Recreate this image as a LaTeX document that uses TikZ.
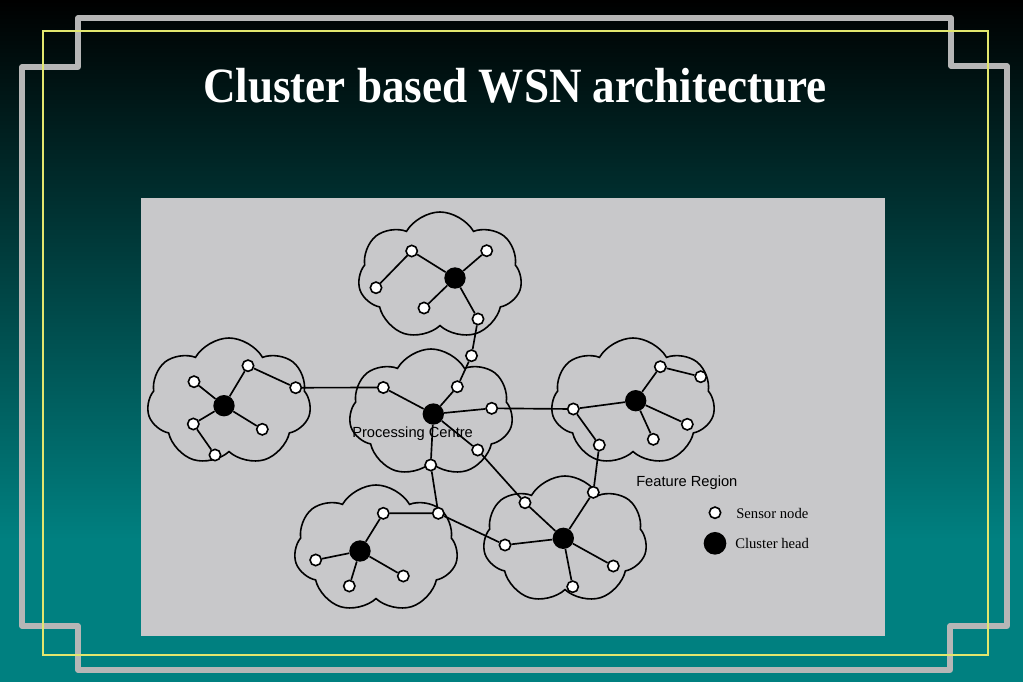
\documentclass[tikz,border=0pt]{standalone}
\usepackage{fontspec}
\setmainfont{Liberation Serif}
\newfontfamily\labelfont{Liberation Sans}
\usepackage{tikz}
\usetikzlibrary{shapes.symbols}
\definecolor{bgteal}{RGB}{0,128,128}
\definecolor{framegray}{RGB}{182,182,182}
\definecolor{lineyellow}{RGB}{226,230,110}
\definecolor{panelgray}{RGB}{200,200,202}

\begin{document}
\begin{tikzpicture}[x=0.75pt,y=0.75pt,yscale=-1,xscale=1,
  sensor/.style={circle,draw,fill=white,line width=1.2pt,inner sep=0pt,minimum size=8.5pt},
  chead/.style={circle,fill=black,inner sep=0pt,minimum size=16pt},
  region/.style={cloud,draw,cloud puffs=7,cloud puff arc=120,line width=1.2pt,inner sep=0pt,minimum width=123pt,minimum height=96pt},
  link/.style={line width=1.25pt}]
\useasboundingbox (0,0) rectangle (1023,682);

%Shape: Background
\fill[bgteal] (0,0) rectangle (1023,682);
\shade[top color=black,bottom color=bgteal] (0,0) rectangle (1023,540);
%Shape: Frame
\draw[framegray,line width=3.8pt,line join=round] (78,18) -- (951,18) -- (951,66) -- (1007,66) -- (1007,626) -- (950,626) -- (950,670) -- (78,670) -- (78,626) -- (22,626) -- (22,67) -- (78,67) -- cycle ;
\draw[lineyellow,line width=1pt] (43,31) rectangle (988,655);
%Shape: Panel
\fill[panelgray] (141,198) rectangle (885,636);

% Text Node
\node[anchor=base,text=white,font=\bfseries\fontsize{37}{40}\selectfont] (title) at (515,102) {\scalebox{0.915}[1]{Cluster based WSN architecture}};

%Shape: Clouds
\node[region] (cN) at (440,276) {};
\node[region] (cW) at (229,402) {};
\node[region] (cP) at (431,413) {};
\node[region] (cE) at (633,402) {};
\node[region] (cSE) at (565,540) {};
\node[region] (cSW) at (376,549) {};

%Shape: Nodes, top cluster
\node[sensor] (nA) at (411.7,251) {};
\node[sensor] (nB) at (486.7,250.7) {};
\node[chead] (nH) at (455,278) {};
\node[sensor] (nC) at (376,287.7) {};
\node[sensor] (nD) at (424,308) {};
\node[sensor] (nE) at (478,319) {};
%Shape: Nodes, left cluster
\node[sensor] (wA) at (248,365.7) {};
\node[sensor] (wB) at (295.7,387.7) {};
\node[sensor] (wC) at (194,381.7) {};
\node[chead] (wH) at (224,405.7) {};
\node[sensor] (wD) at (193.3,424) {};
\node[sensor] (wE) at (262.3,429.3) {};
\node[sensor] (wF) at (215,455) {};
%Shape: Nodes, processing centre
\node[sensor] (pA) at (383.3,387.5) {};
\node[sensor] (pB) at (471.5,355.7) {};
\node[sensor] (pC) at (457.3,386.7) {};
\node[chead] (pH) at (433.3,414) {};
\node[sensor] (pD) at (491.7,408.3) {};
\node[sensor] (pE) at (477.7,450) {};
\node[sensor] (pF) at (430.7,465) {};
%Shape: Nodes, right cluster
\node[sensor] (eA) at (660.3,366.7) {};
\node[sensor] (eB) at (700.7,376.7) {};
\node[chead] (eH) at (635.7,400.7) {};
\node[sensor] (eC) at (573.3,409) {};
\node[sensor] (eD) at (687.3,424.3) {};
\node[sensor] (eE) at (653.3,439.3) {};
\node[sensor] (eF) at (599.3,445) {};
%Shape: Nodes, lower right cluster
\node[sensor] (seA) at (593.3,492.3) {};
\node[sensor] (seB) at (525,502.7) {};
\node[chead] (seH) at (563.3,538.3) {};
\node[sensor] (seC) at (505,545) {};
\node[sensor] (seD) at (613.3,566) {};
\node[sensor] (seE) at (572.7,586.7) {};
%Shape: Nodes, lower left cluster
\node[sensor] (swA) at (383.3,513.3) {};
\node[sensor] (swB) at (438.3,513.3) {};
\node[chead] (swH) at (360,551) {};
\node[sensor] (swC) at (315.7,560) {};
\node[sensor] (swD) at (403.3,576) {};
\node[sensor] (swE) at (349.3,586) {};

%Straight Lines
\draw[link] (nA) -- (nC) (nA) -- (nH) (nH) -- (nB) (nH) -- (nD) (nH) -- (nE);
\draw[link] (wA) -- (wB) (wA) -- (wH) (wC) -- (wH) (wH) -- (wE) (wH) -- (wD) (wD) -- (wF);
\draw[link] (pA) -- (pH) (pB) -- (pC) (pC) -- (pH) (pH) -- (pD) (pH) -- (pE) (pH) -- (pF);
\draw[link] (eA) -- (eB) (eA) -- (eH) (eH) -- (eC) (eH) -- (eD) (eH) -- (eE) (eC) -- (eF);
\draw[link] (seA) -- (seH) (seB) -- (seH) (seH) -- (seC) (seH) -- (seD) (seH) -- (seE);
\draw[link] (swA) -- (swB) (swA) -- (swH) (swH) -- (swC) (swH) -- (swD) (swH) -- (swE);
%Straight Lines, between clusters
\draw[link] (nE) -- (pB) (wB) -- (pA) (pD) -- (eC) (pE) -- (seB) (pF) -- (swB) (swB) -- (seC) (eF) -- (seA);

% Text Node
\node[anchor=west,inner sep=0pt,font=\labelfont\fontsize{11}{13}\selectfont] (pcText) at (352,434) {Processing Centre};
% Text Node
\node[anchor=west,inner sep=0pt,font=\labelfont\fontsize{11}{13}\selectfont] (frText) at (636,483) {Feature Region};

% Legend
\node[sensor] (keySensor) at (715,512.7) {};
\node[chead,minimum size=17pt] (keyHead) at (715,543.3) {};
\node[anchor=west,inner sep=0pt,font=\fontsize{11}{13}\selectfont] (keySensorText) at (736,513) {Sensor node};
\node[anchor=west,inner sep=0pt,font=\fontsize{11}{13}\selectfont] (keyHeadText) at (735,543.5) {Cluster head};

\end{tikzpicture}
\end{document}
